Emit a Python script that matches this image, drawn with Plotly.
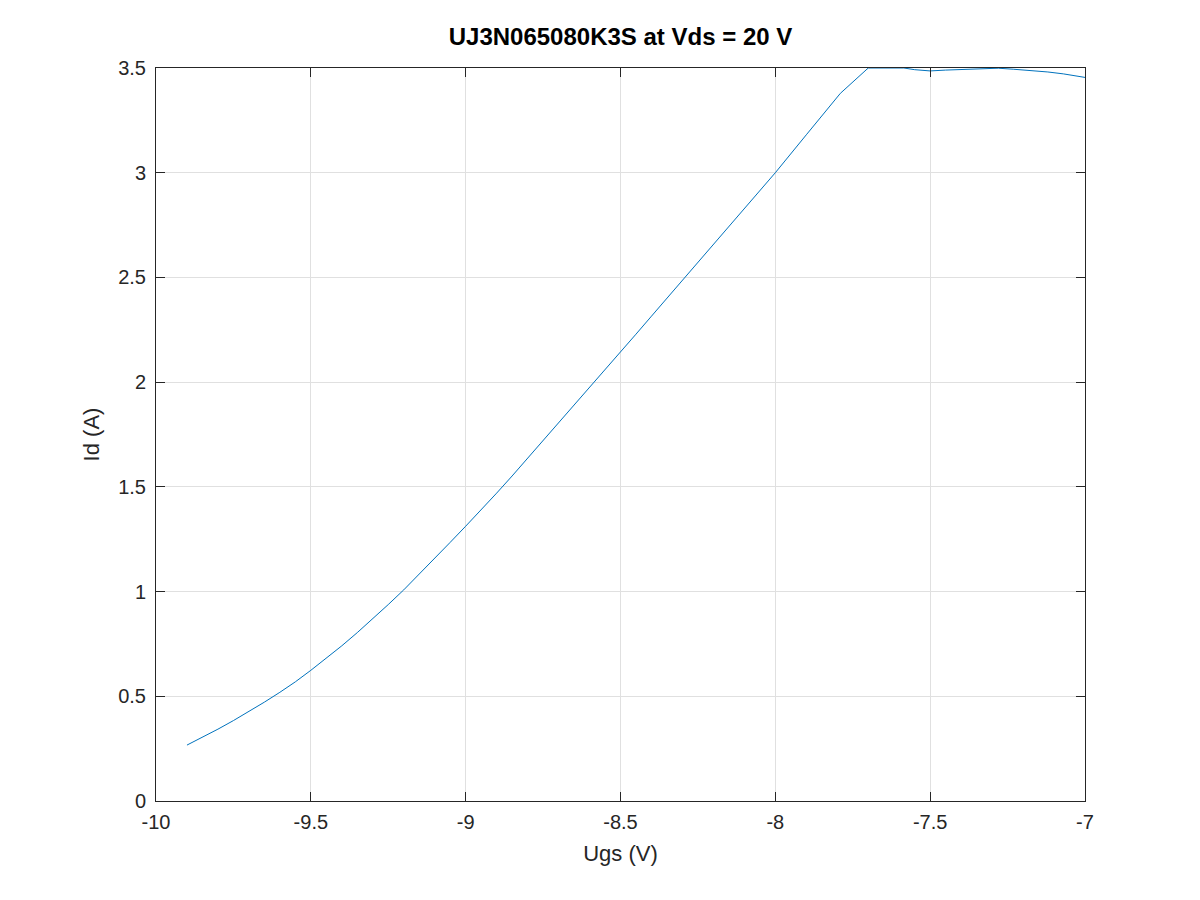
import plotly.graph_objects as go

ugs = [-9.9, -9.85, -9.8, -9.75, -9.7, -9.65, -9.6, -9.55, -9.5, -9.45,
       -9.4, -9.35, -9.3, -9.25, -9.2, -9.15, -9.1, -9.05, -9.0, -8.95,
       -8.9, -8.85, -8.8, -8.75, -8.7, -8.65, -8.6, -8.55, -8.5, -8.45,
       -8.4, -8.35, -8.3, -8.25, -8.2, -8.15, -8.1, -8.05, -8.0, -7.9,
       -7.79, -7.7, -7.65, -7.6, -7.585, -7.55, -7.5, -7.45, -7.414,
       -7.33, -7.28, -7.23, -7.18, -7.12, -7.07, -7.02, -7.0]
id_a = [0.267, 0.304, 0.343, 0.384, 0.427, 0.472, 0.519, 0.569, 0.624, 0.681,
        0.741, 0.804, 0.870, 0.938, 1.008, 1.082, 1.158, 1.235, 1.312, 1.390,
        1.470, 1.552, 1.636, 1.721, 1.806, 1.891, 1.976, 2.060, 2.143, 2.229,
        2.315, 2.400, 2.486, 2.571, 2.657, 2.743, 2.829, 2.914, 3.0, 3.181,
        3.379, 3.5, 3.5, 3.5, 3.5, 3.492, 3.486, 3.49, 3.492,
        3.499, 3.499, 3.494, 3.489, 3.481, 3.472, 3.458, 3.455]

x_ticks = [-10, -9.5, -9, -8.5, -8, -7.5, -7]
y_ticks = [0, 0.5, 1, 1.5, 2, 2.5, 3, 3.5]

fig = go.Figure()
fig.add_trace(go.Scatter(x=ugs, y=id_a, mode="lines",
                         line=dict(color="#0072BD", width=1), showlegend=False))

axis_common = dict(showline=True, linecolor="#262626", linewidth=1, mirror="ticks",
                   ticks="inside", ticklen=9, tickcolor="#262626",
                   showgrid=True, gridcolor="#e0e0e0", gridwidth=1, zeroline=False,
                   tickfont=dict(size=20, color="#262626"))

fig.update_layout(
    width=1200, height=900,
    paper_bgcolor="white", plot_bgcolor="white",
    margin=dict(l=148, r=123, t=60, b=107),
    font=dict(family="Liberation Sans, Arial, sans-serif", color="#262626"),
    title=dict(text="<b>UJ3N065080K3S at Vds = 20 V</b>", x=(156 + 1085) / 2 / 1200 - 8 / 1200,
               xanchor="center", y=1 - 29 / 900, yanchor="middle",
               font=dict(size=24, color="black")),
    xaxis=dict(range=[-10, -7], tickvals=x_ticks, ticktext=[str(v) for v in x_ticks],
               ticklabelstandoff=3,
               title=dict(text="Ugs (V)", font=dict(size=22), standoff=13), **axis_common),
    yaxis=dict(range=[0, 3.5], tickvals=y_ticks, ticktext=[str(v) for v in y_ticks],
               ticklabelstandoff=5,
               title=dict(text="Id (A)", font=dict(size=22), standoff=12), **axis_common),
)

fig.write_html("out.html")
